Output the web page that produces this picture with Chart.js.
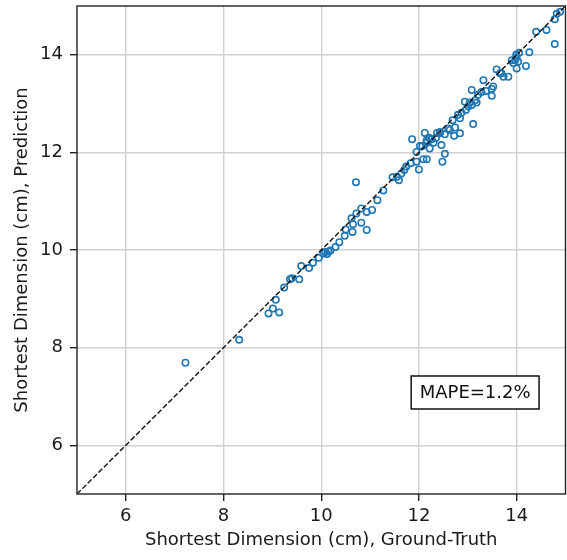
<!DOCTYPE html>
<html lang="en">
  <head>
    <meta charset="UTF-8" />
    <title>Shortest Dimension</title>
    <style>
      html, body { margin: 0; padding: 0; background: #fff; }
      .chart-box { width: 567px; height: 560px; }
    </style>
  </head>
  <body>
    <div class="chart-box">
      <canvas id="dimChart"></canvas>
    </div>

    <script src="https://cdn.jsdelivr.net/npm/chart.js"></script>
    <script>
      // ground-truth vs predicted shortest dimension (cm)
      const groundTruth = [
        7.22, 8.32, 8.92, 9.01, 9.14, 9.07, 9.24, 9.36, 9.40, 9.55,
        9.59, 9.75, 9.83, 9.95, 10.04, 10.08, 10.12, 10.15, 10.29, 10.37,
        10.48, 10.50, 10.64, 10.65, 10.62, 10.82, 10.93, 10.72, 10.82, 10.93,
        11.04, 10.71, 11.15, 11.27, 11.46, 11.59, 11.64, 11.70, 11.74, 11.95,
        12.00, 12.09, 12.16, 12.48, 12.53, 11.95, 12.02, 12.07, 12.22, 12.16,
        12.26, 12.12, 11.86, 12.37, 12.46, 12.43, 12.53, 12.60, 12.72, 12.84,
        12.74, 12.69, 12.80, 12.87, 12.96, 13.01, 13.04, 13.18, 13.11, 13.08,
        13.32, 13.49, 13.49, 13.37, 13.28, 13.21, 13.15, 12.94, 13.59, 13.69,
        13.73, 13.83, 14.00, 14.19, 14.26, 14.40, 14.61, 14.78, 14.78, 14.82,
        14.89, 14.05, 14.00, 13.97, 13.90, 13.93, 14.03, 12.30, 12.35, 11.55,
        11.83, 12.20, 12.15, 12.22, 12.43, 12.63, 12.84, 13.08, 13.66, 13.99,
        13.52, 10.19
      ];
      const predicted = [
        7.69, 8.16, 8.70, 8.80, 8.72, 8.98, 9.23, 9.40, 9.42, 9.40,
        9.67, 9.63, 9.74, 9.84, 9.93, 9.96, 9.92, 9.97, 10.06, 10.16,
        10.29, 10.42, 10.37, 10.53, 10.65, 10.56, 10.41, 10.75, 10.85, 10.78,
        10.82, 11.39, 11.02, 11.22, 11.49, 11.43, 11.57, 11.64, 11.71, 11.81,
        11.65, 11.86, 11.86, 11.81, 11.97, 12.01, 12.13, 12.13, 12.08, 12.25,
        12.27, 12.40, 12.27, 12.40, 12.15, 12.39, 12.37, 12.49, 12.34, 12.39,
        12.51, 12.66, 12.77, 12.81, 12.87, 12.94, 13.02, 13.02, 12.58, 13.28,
        13.48, 13.30, 13.16, 13.26, 13.24, 13.18, 13.07, 13.04, 13.70, 13.62,
        13.55, 13.55, 13.72, 13.77, 14.05, 14.47, 14.51, 14.22, 14.73, 14.84,
        14.88, 14.04, 13.95, 13.89, 13.89, 13.83, 13.86, 12.20, 12.30, 11.50,
        11.78, 12.30, 12.20, 12.29, 12.42, 12.46, 12.70, 12.97, 13.62, 14.00,
        13.35, 9.99
      ];
      const axisRange = [5, 15];
      const tickValues = [6, 8, 10, 12, 14];
      const mapeLabel = "MAPE=1.2%";

      const FONT = "'DejaVu Sans', sans-serif";

      const points = groundTruth.map((x, i) => ({ x: x, y: predicted[i] }));
      const identity = axisRange.map(v => ({ x: v, y: v }));

      // spines on all four sides + the MAPE text box
      const framePlugin = {
        id: "frame",
        afterDatasetsDraw(chart) {
          const { ctx, chartArea: a } = chart;
          ctx.save();
          ctx.strokeStyle = "#222";
          ctx.lineWidth = 1.4;
          ctx.strokeRect(a.left, a.top, a.right - a.left, a.bottom - a.top);

          ctx.font = "18px " + FONT;
          ctx.textAlign = "center";
          ctx.textBaseline = "middle";
          const cx = a.left + 0.815 * (a.right - a.left);
          const cy = a.bottom - 0.208 * (a.bottom - a.top);
          const w = ctx.measureText(mapeLabel).width + 17;
          const h = 33;
          ctx.fillStyle = "#fff";
          ctx.fillRect(cx - w / 2, cy - h / 2, w, h);
          ctx.lineWidth = 1.4;
          ctx.strokeStyle = "#000";
          ctx.strokeRect(cx - w / 2, cy - h / 2, w, h);
          ctx.fillStyle = "#111";
          ctx.fillText(mapeLabel, cx, cy + 1);
          ctx.restore();
        }
      };

      const fixTicks = scale => {
        scale.ticks = tickValues.map(v => ({ value: v }));
      };

      new Chart(document.getElementById("dimChart"), {
        type: "scatter",
        data: {
          datasets: [
            {
              label: "samples",
              data: points,
              pointStyle: "circle",
              pointRadius: 3.2,
              pointHoverRadius: 3.2,
              pointBorderWidth: 1.6,
              borderColor: "#1f77b4",
              backgroundColor: "rgba(0,0,0,0)",
              order: 2
            },
            {
              type: "line",
              label: "y = x",
              data: identity,
              borderColor: "#111",
              borderWidth: 1.4,
              borderDash: [5.3, 2.3],
              pointRadius: 0,
              fill: false,
              order: 1
            }
          ]
        },
        options: {
          responsive: true,
          maintainAspectRatio: false,
          animation: false,
          layout: { autoPadding: false, padding: { top: 6, right: 1.5, left: 0, bottom: 0 } },
          plugins: {
            legend: { display: false },
            tooltip: { enabled: false }
          },
          scales: {
            x: {
              type: "linear",
              min: axisRange[0],
              max: axisRange[1],
              afterBuildTicks: fixTicks,
              afterFit: s => { s.height = 66; s.paddingLeft = 0; s.paddingRight = 0; },
              border: { display: false },
              grid: { color: "#d0d0d0", lineWidth: 1.4, tickLength: 7, tickColor: "#222", tickWidth: 1.4 },
              ticks: { color: "#1a1a1a", font: { family: FONT, size: 18 }, padding: 5 },
              title: {
                display: true,
                text: "Shortest Dimension (cm), Ground-Truth",
                color: "#1a1a1a",
                font: { family: FONT, size: 18 },
                padding: { top: 0, bottom: 9 }
              }
            },
            y: {
              type: "linear",
              min: axisRange[0],
              max: axisRange[1],
              afterBuildTicks: fixTicks,
              afterFit: s => { s.width = 77; s.paddingTop = 0; s.paddingBottom = 0; },
              border: { display: false },
              grid: { color: "#d0d0d0", lineWidth: 1.4, tickLength: 7, tickColor: "#222", tickWidth: 1.4 },
              ticks: { color: "#1a1a1a", font: { family: FONT, size: 18 }, padding: 7 },
              title: {
                display: true,
                text: "Shortest Dimension (cm), Prediction",
                color: "#1a1a1a",
                font: { family: FONT, size: 18 },
                padding: { top: 12, bottom: 0 }
              }
            }
          }
        },
        plugins: [framePlugin]
      });
    </script>
  </body>
</html>
